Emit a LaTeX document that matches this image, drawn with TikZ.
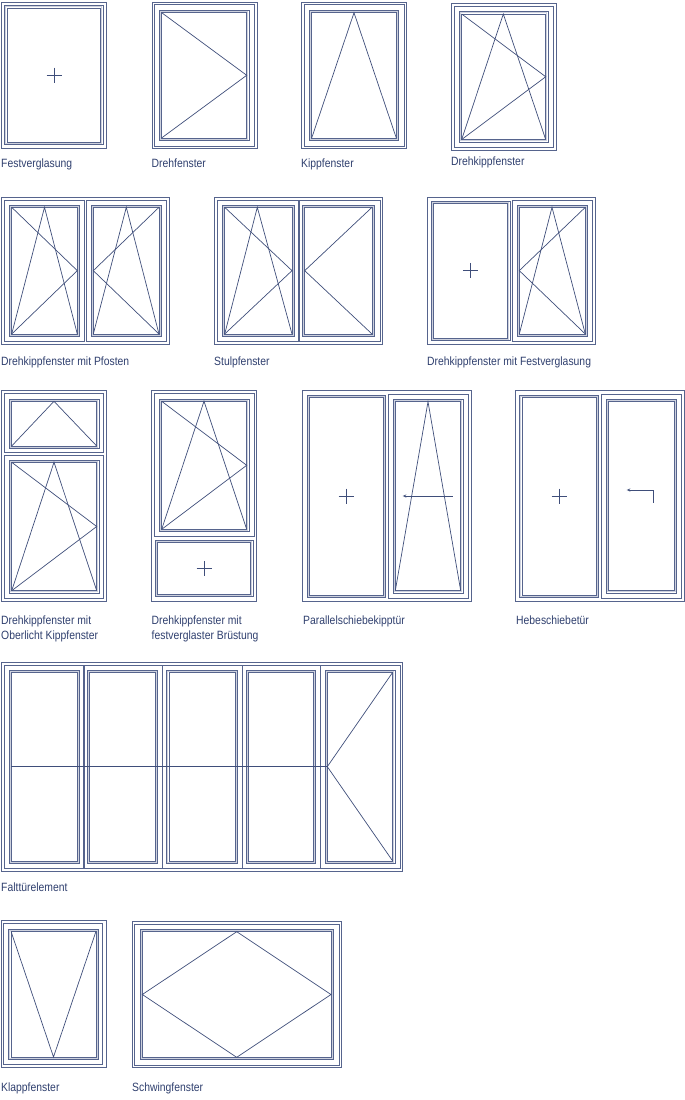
\documentclass[tikz,border=0pt]{standalone}
\usepackage{fontspec}
\setmainfont[FakeStretch=0.865]{Liberation Sans}
\usetikzlibrary{arrows.meta}
\definecolor{wline}{HTML}{56648D}
\definecolor{wsymc}{HTML}{3F4E7A}
\definecolor{wband}{HTML}{CDD1DE}
\definecolor{wtext}{HTML}{2F3F6E}
\newcommand{\wrect}[4]{\draw[wframe] (#1,#2) rectangle (#3,#4);}
% glazed sash given by its glass rectangle
\newcommand{\wsash}[4]{%
  \draw[wbandline] ({#1-1.15},{#2-1.15}) rectangle ({#3+1.15},{#4+1.15});
  \draw[wframe] ({#1-2.4},{#2-2.4}) rectangle ({#3+2.4},{#4+2.4});
  \draw[wframe] (#1,#2) rectangle (#3,#4);}
% fixed pane: two close rectangles
\newcommand{\wpane}[4]{%
  \draw[wbandline] ({#1-1.15},{#2-1.15}) rectangle ({#3+1.15},{#4+1.15});
  \draw[wframe] ({#1-2.4},{#2-2.4}) rectangle ({#3+2.4},{#4+2.4});
  \draw[wframe] (#1,#2) rectangle (#3,#4);}
\newcommand{\wturnR}[4]{\draw[wsym] (#1,#2) -- (#3,{(#2+#4)/2}) -- (#1,#4);}
\newcommand{\wturnL}[4]{\draw[wsym] (#3,#2) -- (#1,{(#2+#4)/2}) -- (#3,#4);}
\newcommand{\wtilt}[5]{\draw[wsym] (#1,#4) -- (#5,#2) -- (#3,#4);}
\newcommand{\wcross}[2]{\draw[wsym] ({#1-7.5},#2) -- ({#1+7.5},#2) (#1,{#2-7.5}) -- (#1,{#2+7.5});}
\tikzset{
  wframe/.style={draw=wline,line width=0.65pt},
  wbandline/.style={draw=wband,line width=1.2pt},
  wsym/.style={draw=wsymc,line width=0.7pt,line join=miter},
  warrow/.style={wsym,-{Stealth[open,length=3.6pt,width=3.2pt]}},
  wlabel/.style={anchor=base west,inner sep=0pt,text=wtext,font=\fontsize{12}{15}\selectfont,align=left},
}
\begin{document}
\begin{tikzpicture}[x=1pt,y=-1pt]
\useasboundingbox (0,0) rectangle (685,1100);
% --- Row 1 ---
\wrect{1.5}{2}{106}{148}
\wpane{7}{8}{100.6}{142}
\wcross{54}{75}
\node[wlabel] (l1) at (1,167) {Festverglasung};

\wrect{152}{2}{257}{148}
\wrect{154.5}{4.5}{254.7}{146}
\wsash{161.7}{12.7}{246.7}{137.9}
\wturnR{161.7}{12.7}{246.7}{137.9}
\node[wlabel] (l2) at (151.5,167) {Drehfenster};

\wrect{301.5}{2}{406.7}{148}
\wrect{304}{4.5}{404}{146}
\wsash{311.7}{12.7}{396.3}{138}
\wtilt{311.7}{12.7}{396.3}{138}{354}
\node[wlabel] (l3) at (301,167) {Kippfenster};

\wrect{451.3}{3.5}{556.3}{150.7}
\wrect{454}{6}{553.7}{147.7}
\wsash{461.7}{14}{545.7}{139.5}
\wturnR{461.7}{14}{545.7}{139.5}
\wtilt{461.7}{14}{545.7}{139.5}{503.3}
\node[wlabel] (l4) at (451,165) {Drehkippfenster};

% --- Row 2 ---
\wrect{1.3}{197.3}{169}{344}
\wrect{4}{200}{84}{341.7}
\wrect{86.7}{200}{166.7}{341.7}
\wsash{11.7}{207.3}{77.3}{334}
\wturnR{11.7}{207.3}{77.3}{334}
\wtilt{11.7}{207.3}{77.3}{334}{44.5}
\wsash{93.3}{207.3}{159}{334}
\wturnL{93.3}{207.3}{159}{334}
\wtilt{93.3}{207.3}{159}{334}{126.3}
\node[wlabel] (l5) at (1,365) {Drehkippfenster mit Pfosten};

\wrect{214.3}{197.3}{382.7}{344.3}
\wrect{217.3}{200}{380}{341.7}
\draw[wline,line width=1.4pt] (299,200) -- (299,341.7);
\wsash{224.7}{207.3}{292}{334}
\wturnR{224.7}{207.3}{292}{334}
\wtilt{224.7}{207.3}{292}{334}{257.3}
\wsash{304.7}{207.3}{372}{334}
\wturnL{304.7}{207.3}{372}{334}
\node[wlabel] (l6) at (214,365) {Stulpfenster};

\wrect{427.3}{197.3}{595}{344.3}
\wpane{433.3}{203.3}{507.7}{338.3}
\wcross{470.3}{270.3}
\wrect{512.3}{200}{592}{341.7}
\wsash{519.3}{207.3}{585.3}{334}
\wturnL{519.3}{207.3}{585.3}{334}
\wtilt{519.3}{207.3}{585.3}{334}{552}
\node[wlabel] (l7) at (427,365) {Drehkippfenster mit Festverglasung};

% --- Row 3 ---
\wrect{1.5}{390.7}{106}{601}
\wrect{4}{393.3}{103.3}{452.7}
\wrect{4}{455}{103.3}{598.3}
\wsash{11.7}{401.3}{96.7}{446}
\wtilt{11.7}{401.3}{96.7}{446}{54}
\wsash{11.7}{462.3}{96.7}{590.7}
\wturnR{11.7}{462.3}{96.7}{590.7}
\wtilt{11.7}{462.3}{96.7}{590.7}{54}
\node[wlabel] (l8) at (1,624) {Drehkippfenster mit};
\node[wlabel] (l8b) at (1,639) {Oberlicht Kippfenster};

\wrect{151.7}{390.7}{256.7}{601}
\wrect{154.5}{393.3}{254}{536.7}
\wsash{161.7}{401.3}{246.7}{529.3}
\wturnR{161.7}{401.3}{246.7}{529.3}
\wtilt{161.7}{401.3}{246.7}{529.3}{204}
\wpane{157.7}{542.3}{250.7}{594.3}
\wcross{204}{568.3}
\node[wlabel] (l9) at (151.5,624) {Drehkippfenster mit};
\node[wlabel] (l9b) at (151.5,639) {festverglaster Brüstung};

\wrect{302.7}{390.7}{471}{601.7}
\wpane{309.3}{397.3}{383.3}{595}
\wcross{346}{496}
\wrect{388}{394}{468.3}{598.3}
\wsash{395.3}{401.7}{460.7}{590.7}
\wtilt{395.3}{401.7}{460.7}{590.7}{428}
\draw[warrow] (452.7,496) -- (402.7,496);
\node[wlabel] (l10) at (303,624) {Parallelschiebekipptür};

\wrect{515.7}{390.7}{684.3}{601.7}
\wpane{522}{397.3}{596.3}{595}
\wcross{559}{496}
\wrect{601.3}{394}{681.7}{598.3}
\wsash{608.3}{401.7}{674}{590.7}
\draw[warrow] (653,502.7) -- (653,490) -- (626.7,490);
\node[wlabel] (l11) at (516,624) {Hebeschiebetür};

% --- Row 4 ---
\wrect{1.3}{662.3}{402.7}{871.7}
\wrect{4}{665}{400}{868.3}
\foreach \mx in {84,162.3,242.3,320.3}
  \draw[wline,line width=1.2pt] (\mx,665) -- (\mx,868.3);
\wsash{11.3}{672.3}{77}{861}
\wsash{89.7}{672.3}{155.3}{861}
\wsash{169}{672.3}{235.3}{861}
\wsash{248.3}{672.3}{313.3}{861}
\wsash{327.3}{672.3}{392.7}{861}
\wturnL{327.3}{672.3}{392.7}{861}
\draw[wsym] (11.3,766.7) -- (327.3,766.7);
\node[wlabel] (l12) at (1,891.7) {Falttürelement};

% --- Row 5 ---
\wrect{1.3}{920.7}{106}{1067.3}
\wrect{3.6}{922.9}{102.7}{1064.3}
\wsash{11}{931.3}{96}{1057}
\draw[wsym] (11,931.3) -- (53.5,1057) -- (96,931.3);
\node[wlabel] (l13) at (1,1091) {Klappfenster};

\wrect{132}{921.3}{341.7}{1067.3}
\wrect{134.3}{924}{339.3}{1065}
\wsash{142.3}{931.7}{331}{1057.3}
\draw[wsym] (142.3,994.5) -- (236.7,931.7) -- (331,994.5) -- (236.7,1057.3) -- cycle;
\node[wlabel] (l14) at (132,1091) {Schwingfenster};
\end{tikzpicture}
\end{document}
